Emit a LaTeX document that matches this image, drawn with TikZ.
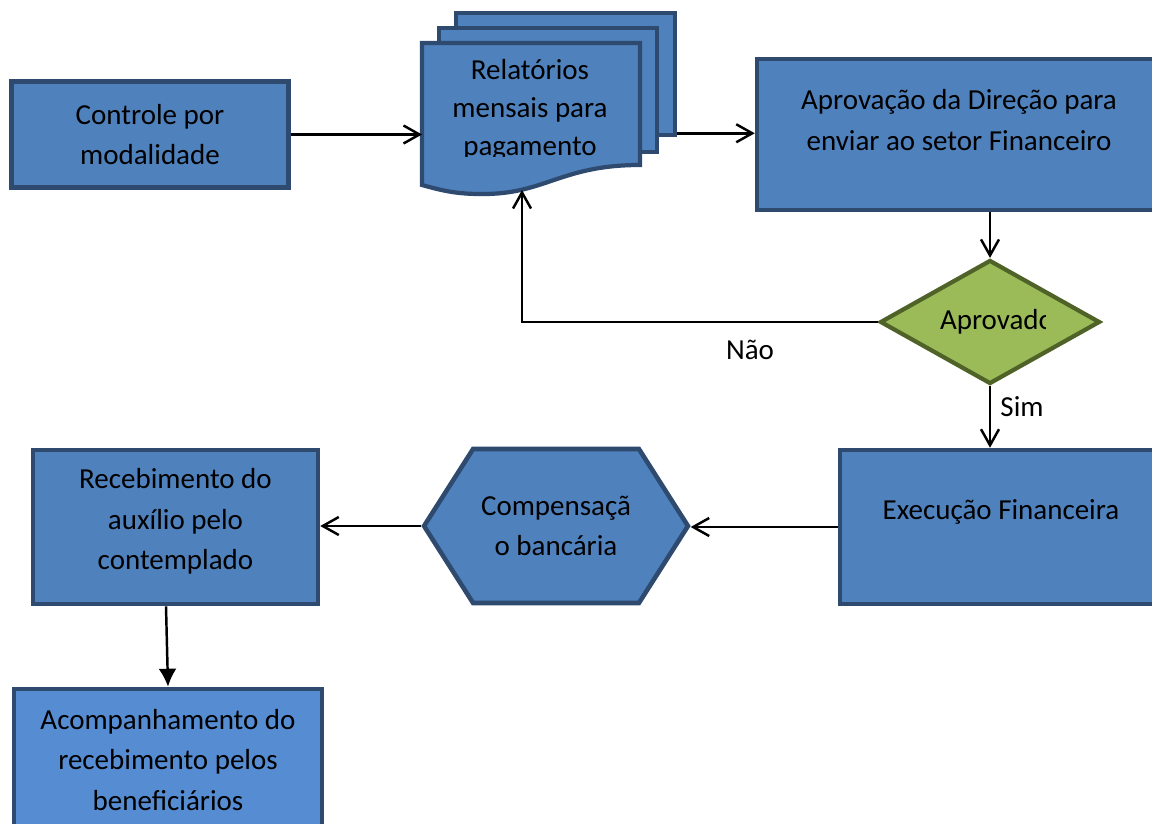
\documentclass[tikz,border=0pt]{standalone}
\usepackage{fontspec}
\setmainfont{Carlito}
\usepackage{tikz}
\usetikzlibrary{shapes.geometric,shapes.symbols,arrows.meta}

\definecolor{boxfill}{HTML}{4F81BD}
\definecolor{boxline}{HTML}{2E4A6E}
\definecolor{lightfill}{HTML}{558CD2}
\definecolor{decfill}{HTML}{9BBB59}
\definecolor{decline}{HTML}{4F6228}

\tikzset{
  blk/.style={draw=boxline, fill=boxfill, line width=2.6pt, rectangle, align=center, inner sep=0pt, font=\fontsize{16.5}{23}\selectfont},
  txt/.style={align=center, inner sep=0pt, font=\fontsize{16.5}{23}\selectfont},
  page/.style={draw=boxline, fill=boxfill, line width=2.4pt, line join=miter},
  flow/.style={line width=1.4pt, -{Straight Barb[length=0.32cm,width=0.36cm]}},
}

\begin{document}
\begin{tikzpicture}[x=0.02cm, y=-0.02cm]
\useasboundingbox (0,0) rectangle (1152,824);
\clip (0,0) rectangle (1152,824);

% caixas
\node[blk, minimum width=5.54cm, minimum height=2.12cm] (ctrl) at (150,134.5) {Controle por\\modalidade};
\node[blk, minimum width=8.86cm, minimum height=3.02cm] (aprov) at (978.5,134.5) {};
\node[txt] (aprovtxt) at ([xshift=-0.39cm,yshift=0.29cm]aprov.center) {Aprovação da Direção para\\enviar ao setor Financeiro};
\node[diamond, draw=decline, fill=decfill, line width=2.4pt, minimum width=4.4cm, minimum height=2.48cm, inner sep=0pt] (dec) at (990,322) {};
\node[blk, minimum width=7.2cm, minimum height=3.08cm] (exec) at (1020,527) {};
\node[txt] (exectxt) at ([xshift=-0.38cm,yshift=0.3cm]exec.center) {Execução Financeira};
\node[blk, signal, signal to=east and west, signal pointer angle=115, minimum width=5.28cm, minimum height=3.08cm] (hex) at (556,526) {Compensaçã\\o bancária};
\node[blk, minimum width=5.7cm, minimum height=3.08cm] (receb) at (175.5,527) {};
\node[txt] (recebtxt) at ([yshift=0.11cm]receb.center) {Recebimento do\\auxílio pelo\\contemplado};
\node[blk, fill=lightfill, minimum width=6.16cm, minimum height=3.02cm] (acomp) at (168,764.5) {};
\node[txt] (acomptxt) at ([yshift=0.09cm]acomp.center) {Acompanhamento do\\recebimento pelos\\beneficiários};

% relatorios (varias folhas)
\node[blk, minimum width=4.38cm, minimum height=2.44cm] (docC) at (565.5,74) {};
\node[blk, minimum width=4.36cm, minimum height=2.48cm] (docB) at (548,90) {};
\draw[page] (422,43) coordinate (docA) -- (640,43) -- (640,165)
  .. controls (560,165) and (545,195) .. (480,194)
  .. controls (455,194) and (440,190) .. (422,185) -- cycle;
\coordinate (relbot) at (522,190);
\begin{scope}
  \clip (422,43) rectangle (640,157);
  \node[txt, font=\fontsize{16.5}{21.6}\selectfont] (reltxt) at (530,110) {Relatórios\\mensais para\\pagamento};
\end{scope}
\begin{scope}
  \clip (900,290) rectangle (1045,355);
  \node[txt] (dectxt) at ([xshift=0.14cm]dec.center) {Aprovado};
\end{scope}

% ligacoes
\draw[flow] (ctrl.east) -- (ctrl.east -| docA);
\draw[flow] ([yshift=0.08cm]docC.south east) -- ([yshift=0.08cm]docC.south east -| aprov.west);
\draw[flow] (dec.north |- aprov.south) -- (dec.north);
\draw[flow] (dec.west) -| (relbot);
\draw[flow] (dec.south) -- (dec.south |- exec.north);
\draw[flow] (exec.west) -- (exec.west -| hex.east);
\draw[flow] (hex.west) -- (hex.west -| receb.east);
\draw[line width=1.4pt, -{Latex[length=0.36cm,width=0.36cm]}] ([xshift=-0.19cm]receb.south) -- (acomp.north);

\node[txt] (nao) at (750,350) {Não};
\node[txt] (sim) at (1022,407) {Sim};
\end{tikzpicture}
\end{document}
